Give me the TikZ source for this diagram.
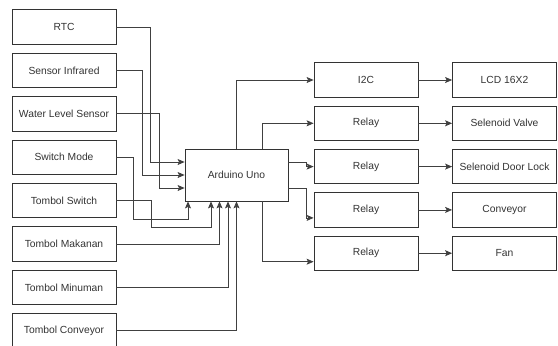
\documentclass[tikz,border=0pt]{standalone}
\usepackage{fontspec}
\setmainfont{Liberation Sans}
\usetikzlibrary{arrows.meta}
\begin{document}
\begin{tikzpicture}[
x=1pt,y=-1pt,
every node/.style={font=\fontsize{10.3}{12}\selectfont,text=black!80},
blok/.style={draw=black!80,line width=0.8pt,rectangle,minimum width=104pt,minimum height=34.5pt,inner sep=0pt},
uno/.style={blok,minimum width=103pt,minimum height=52pt},
jalur/.style={draw=black!75,line width=0.8pt,-{Stealth[length=7pt,width=6pt,inset=1.5pt]}}
]
\useasboundingbox (0,0) rectangle (558,346);
\clip (0,0) rectangle (558,346);
\node[blok] (rtc) at (64,27) {RTC};
\node[blok] (ir) at (64,70.4) {Sensor Infrared};
\node[blok] (wl) at (64,113.8) {Water Level Sensor};
\node[blok] (sm) at (64,157.2) {Switch Mode};
\node[blok] (ts) at (64,200.6) {Tombol Switch};
\node[blok] (tmk) at (64,244) {Tombol Makanan};
\node[blok] (tmn) at (64,287.4) {Tombol Minuman};
\node[blok] (tcv) at (64,330.8) {Tombol Conveyor};
\node[uno] (arduino) at (236.5,175) {Arduino Uno};
\node[blok] (i2c) at (366,80) {I2C};
\node[blok] (relay1) at (366,123.3) {Relay};
\node[blok] (relay2) at (366,166.6) {Relay};
\node[blok] (relay3) at (366,209.9) {Relay};
\node[blok] (relay4) at (366,253.2) {Relay};
\node[blok] (lcd) at (504.5,80) {LCD 16X2};
\node[blok] (valve) at (504.5,123.3) {Selenoid Valve};
\node[blok] (lock) at (504.5,166.6) {Selenoid Door Lock};
\node[blok] (conv) at (504.5,209.9) {Conveyor};
\node[blok] (fan) at (504.5,253.2) {Fan};
\draw[jalur] (rtc.east) -- ++(34,0) |- ([yshift=13pt]arduino.west);
\draw[jalur] (ir.east) -- ++(26,0) |- (arduino.west);
\draw[jalur] (wl.east) -- ++(43,0) |- ([yshift=-13pt]arduino.west);
\draw[jalur] (sm.east) -| (133,219) -| ([xshift=-48.5pt]arduino.south);
\draw[jalur] (ts.east) -| (151,227) -| ([xshift=-25.5pt]arduino.south);
\draw[jalur] (tmk.east) -| ([xshift=-17pt]arduino.south);
\draw[jalur] (tmn.east) -| ([xshift=-8.5pt]arduino.south);
\draw[jalur] (tcv.east) -| (arduino.south);
\draw[jalur] (arduino.north) |- (i2c.west);
\draw[jalur] ([xshift=26pt]arduino.north) |- (relay1.west);
\draw[jalur] ([yshift=13pt]arduino.east) -- ++(18,0) |- (relay2.west);
\draw[jalur] ([yshift=-13pt]arduino.east) -- ++(18,0) |- ([yshift=-8pt]relay3.west);
\draw[jalur] ([xshift=26pt]arduino.south) |- ([yshift=-8.5pt]relay4.west);
\draw[jalur] (i2c.east) -- (lcd.west);
\draw[jalur] (relay1.east) -- (valve.west);
\draw[jalur] (relay2.east) -- (lock.west);
\draw[jalur] (relay3.east) -- (conv.west);
\draw[jalur] (relay4.east) -- (fan.west);
\end{tikzpicture}
\end{document}
